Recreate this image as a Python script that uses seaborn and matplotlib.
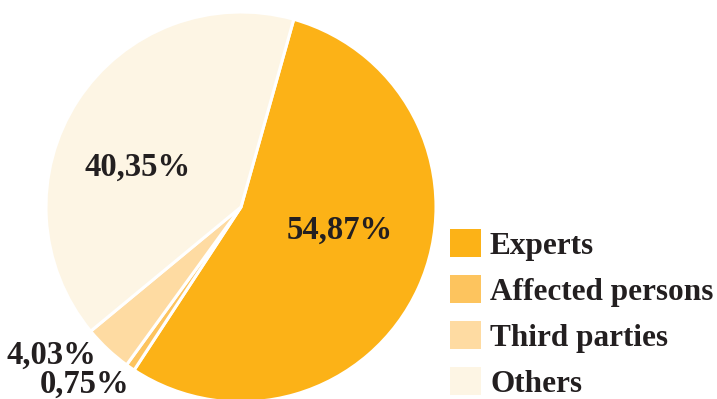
import matplotlib
matplotlib.use("Agg")
import matplotlib.pyplot as plt
from matplotlib.patches import Patch
import seaborn as sns

# Share of each group
categories = ["Experts", "Affected persons", "Third parties", "Others"]
shares = [54.87, 0.75, 4.03, 40.35]
colors = ["#FCB217", "#FDC45E", "#FEDBA2", "#FDF5E4"]

# label anchor points (pie units, text baseline)
label_pos = [(0.508, -0.164), (-0.80, -0.955), (-0.97, -0.805), (-0.533, 0.159)]

sns.set_theme(style="white")
plt.rcParams["font.family"] = ["Liberation Serif", "DejaVu Serif"]
plt.rcParams["font.weight"] = "bold"
text_color = "#231F20"

fig = plt.figure(figsize=(7.17, 3.99), dpi=100)
W, H = 717, 399
cx, cy, r = 241, 207, 195
ax = fig.add_axes([(cx - r) / W, (H - cy - r) / H, 2 * r / W, 2 * r / H])

palette = sns.color_palette(colors)
wedges, _ = ax.pie(
    shares,
    colors=palette,
    startangle=74.3,
    counterclock=False,
    radius=1.0,
    wedgeprops=dict(edgecolor="white", linewidth=2.2),
)
ax.set_xlim(-1, 1)
ax.set_ylim(-1, 1)
ax.set_aspect("equal")
ax.axis("off")
for w in wedges:
    w.set_clip_on(False)

for val, (x, y) in zip(shares, label_pos):
    ax.text(x, y, f"{val:.2f}".replace(".", ",") + "%",
            ha="center", va="baseline", fontsize=23.5, fontweight="bold",
            color=text_color, clip_on=False)

handles = [Patch(facecolor=c, edgecolor="none") for c in palette]
leg = fig.legend(
    handles, categories,
    loc="upper left",
    bbox_to_anchor=(450 / W, 1 - 229 / H),
    frameon=False,
    handlelength=1.0,
    handleheight=1.0,
    handletextpad=0.28,
    labelspacing=0.46,
    borderpad=0,
    borderaxespad=0,
    prop=dict(weight="bold", size=22.5),
)
for t in leg.get_texts():
    t.set_color(text_color)

fig.savefig("out.png", dpi=100)
